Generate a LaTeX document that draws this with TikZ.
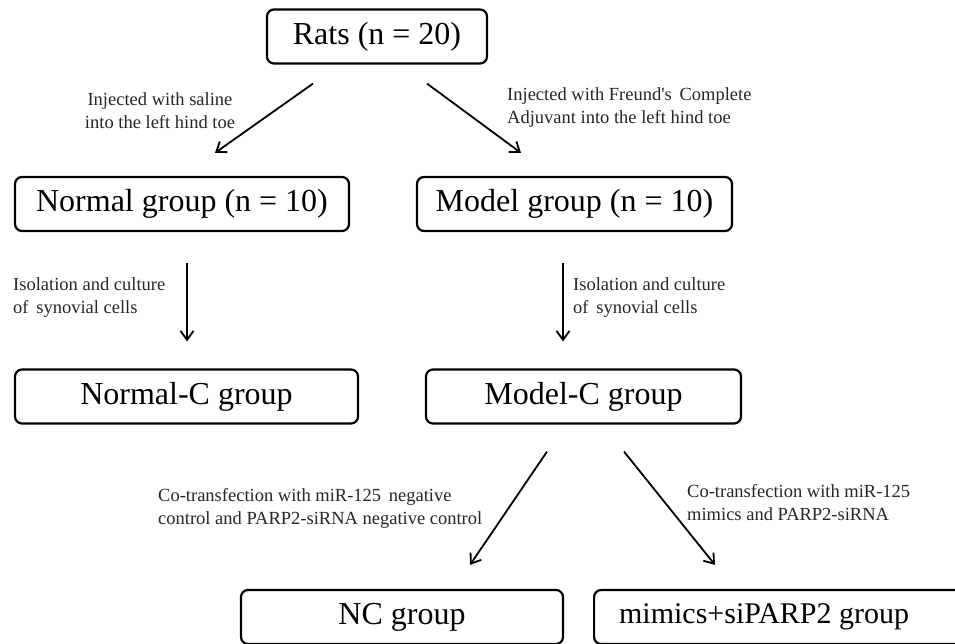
\documentclass[tikz,border=0pt]{standalone}
\usepackage{fontspec}
\setmainfont{Liberation Serif}
\usetikzlibrary{arrows.meta,calc}

\tikzset{
  grp/.style={draw, rectangle, rounded corners=7pt, line width=2.2pt, minimum height=54pt, inner sep=0pt, font=\fontsize{32}{32}\selectfont},
  lbl/.style={align=left, inner sep=0pt, text=black!85, font=\fontsize{18.5}{23}\selectfont},
  flow/.style={-{Straight Barb[length=9pt,width=13pt,line width=1.8pt]}, line width=1.8pt}
}

\begin{document}
\begin{tikzpicture}[x=1pt,y=-1pt]
\useasboundingbox (0,0) rectangle (955,644);
\clip (0,0) rectangle (955,644);

% groups
\node[grp, minimum width=220pt] (R) at (377,36.5) {Rats (n = 20)};
\node[grp, minimum width=334pt] (N) at (182,204) {Normal group (n = 10)};
\node[grp, minimum width=315pt] (M) at (574.5,204) {Model group (n = 10)};
\node[grp, minimum width=343pt] (NC1) at (186.5,396.5) {Normal-C group};
\node[grp, minimum width=315pt] (MC) at (583.5,396.5) {Model-C group};
\node[grp, minimum width=322pt] (NC) at (402,617) {NC group};
\node[grp, minimum width=420pt, anchor=west, font=\fontsize{30}{30}\selectfont] (MS) at (593,617) {mimics+siPARP2 group\kern80pt};

% arrows
\draw[flow] ($(R.south)+(-64,19)$) -- ($(N.north)+(33,-23)$);
\draw[flow] ($(R.south)+(50,19)$) -- ($(M.north)+(-53.5,-23)$);
\draw[flow] ($(N.south)+(5,31)$) -- ($(NC1.north)+(0.5,-27)$);
\draw[flow] ($(M.south)+(-11.5,31)$) -- ($(MC.north)+(-20.5,-27)$);
\draw[flow] ($(MC.south)+(-36.5,27)$) -- ($(NC.north)+(68,-24)$);
\draw[flow] ($(MC.south)+(40.5,27)$) -- ($(MS.north west)+(122,-24)$);

% labels
\node[lbl, align=center] (L1) at (160,111) {Injected with saline\\into the left hind toe};
\node[lbl, anchor=west] (L2) at (507,108) {Injected with Freund\textquotesingle s\, Complete\\Adjuvant into the left hind toe};
\node[lbl, anchor=west] (L3) at (13,297.5) {Isolation and culture\\of\, synovial cells};
\node[lbl, anchor=west] (L4) at (573,297.5) {Isolation and culture\\of\, synovial cells};
\node[lbl, anchor=west] (L5) at (158,508) {Co-transfection with miR-125\, negative\\control and PARP2-siRNA negative control};
\node[lbl, anchor=west] (L6) at (687,503) {Co-transfection with miR-125\\mimics and PARP2-siRNA};
\end{tikzpicture}
\end{document}
